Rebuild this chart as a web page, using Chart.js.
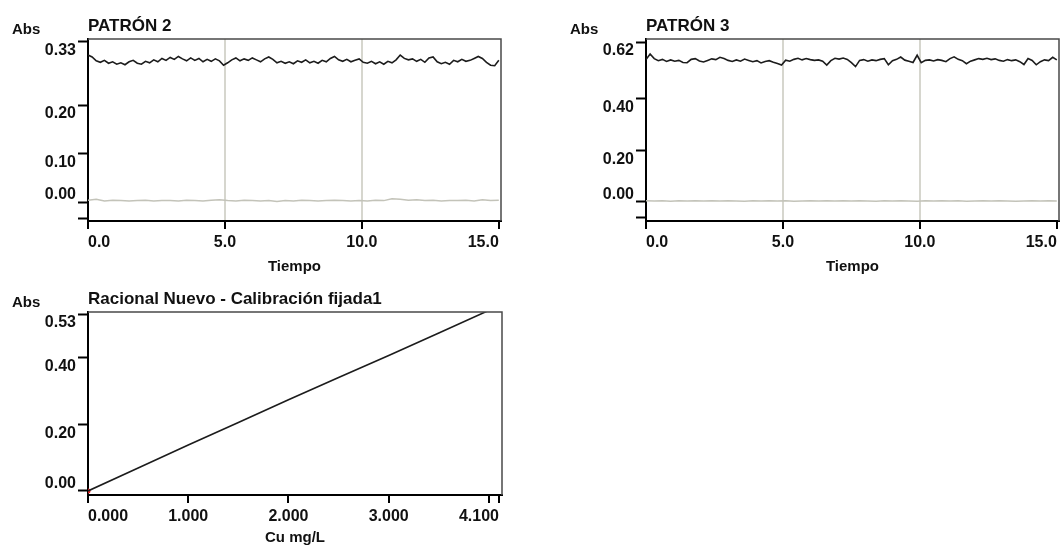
<!DOCTYPE html>
<html>
<head>
<meta charset="utf-8">
<script src="https://cdn.jsdelivr.net/npm/chart.js@4.4.0/dist/chart.umd.min.js"></script>
<style>
html,body{margin:0;padding:0;background:#fff;}
#wrap{position:relative;width:1061px;height:548px;overflow:hidden;}
canvas{position:absolute;}
</style>
</head>
<body>
<div id="wrap">
  <canvas id="c1" width="530" height="280" style="left:0;top:0"></canvas>
  <canvas id="c2" width="521" height="280" style="left:540px;top:0"></canvas>
  <canvas id="c3" width="530" height="268" style="left:0;top:280px"></canvas>
</div>
<script>
// Tiempo (min) - muestreo de las señales
const STEP_ABS = 0.15;   // señal de absorbancia
const STEP_BG = 0.3;     // señal de fondo (gris)

// PATRÓN 2
const p2Abs = [
  0.303, 0.299, 0.291, 0.288, 0.292, 0.286, 0.289, 0.284, 0.287, 0.283,
  0.289, 0.292, 0.286, 0.284, 0.290, 0.287, 0.293, 0.289, 0.296, 0.292,
  0.298, 0.294, 0.300, 0.295, 0.291, 0.297, 0.292, 0.296, 0.289, 0.294,
  0.290, 0.295, 0.291, 0.282, 0.287, 0.293, 0.297, 0.291, 0.295, 0.292,
  0.297, 0.293, 0.289, 0.295, 0.299, 0.294, 0.287, 0.290, 0.286, 0.289,
  0.285, 0.291, 0.288, 0.293, 0.287, 0.290, 0.286, 0.292, 0.289, 0.296,
  0.300, 0.293, 0.290, 0.294, 0.289, 0.292, 0.295, 0.288, 0.286, 0.290,
  0.285, 0.289, 0.284, 0.290, 0.287, 0.293, 0.303, 0.296, 0.293, 0.295,
  0.290, 0.294, 0.288, 0.297, 0.299, 0.289, 0.285, 0.288, 0.284, 0.292,
  0.289, 0.294, 0.290, 0.292, 0.296, 0.300, 0.296, 0.288, 0.282, 0.281,
  0.292
];
const p2Bg = [
  0.004, 0.006, 0.002, 0.004, 0.003, 0.002, 0.003, 0.004, 0.002, 0.003,
  0.003, 0.002, 0.004, 0.003, 0.002, 0.004, 0.005, 0.003, 0.002, 0.004,
  0.003, 0.002, 0.003, 0.001, 0.003, 0.002, 0.004, 0.003, 0.002, 0.003,
  0.004, 0.003, 0.002, 0.003, 0.002, 0.004, 0.003, 0.007, 0.006, 0.004,
  0.005, 0.003, 0.004, 0.002, 0.003, 0.003, 0.004, 0.002, 0.005, 0.003,
  0.004
];
const p2YTicks = [-0.033, 0, 0.1, 0.2, 0.33];
const p2YLabels = ['', '0.00', '0.10', '0.20', '0.33'];

// PATRÓN 3
const p3Abs = [
  0.552, 0.574, 0.556, 0.548, 0.553, 0.545, 0.551, 0.546, 0.549, 0.541,
  0.540, 0.553, 0.556, 0.547, 0.543, 0.549, 0.555, 0.552, 0.561, 0.556,
  0.549, 0.545, 0.551, 0.546, 0.554, 0.549, 0.544, 0.548, 0.539, 0.545,
  0.548, 0.542, 0.537, 0.531, 0.550, 0.546, 0.553, 0.557, 0.551, 0.556,
  0.552, 0.549, 0.551, 0.546, 0.531, 0.548, 0.557, 0.554, 0.558, 0.553,
  0.540, 0.525, 0.549, 0.552, 0.546, 0.551, 0.548, 0.553, 0.556, 0.532,
  0.548, 0.553, 0.562, 0.550, 0.546, 0.541, 0.569, 0.540, 0.549, 0.551,
  0.547, 0.552, 0.549, 0.544, 0.556, 0.563, 0.553, 0.548, 0.536, 0.546,
  0.551, 0.556, 0.553, 0.557, 0.552, 0.555, 0.549, 0.546, 0.552, 0.548,
  0.551, 0.544, 0.533, 0.556, 0.549, 0.532, 0.544, 0.551, 0.548, 0.561,
  0.551
];
const p3Bg = [
  0.005, 0.004, 0.005, 0.003, 0.005, 0.004, 0.005, 0.004, 0.005, 0.004,
  0.005, 0.004, 0.003, 0.005, 0.004, 0.005, 0.004, 0.005, 0.003, 0.004,
  0.005, 0.004, 0.005, 0.004, 0.005, 0.004, 0.005, 0.004, 0.003, 0.005,
  0.004, 0.005, 0.004, 0.003, 0.005, 0.004, 0.005, 0.004, 0.005, 0.003,
  0.004, 0.005, 0.004, 0.005, 0.004, 0.003, 0.004, 0.005, 0.004, 0.005,
  0.004
];
const p3YTicks = [-0.062, 0, 0.2, 0.4, 0.62];
const p3YLabels = ['', '0.00', '0.20', '0.40', '0.62'];

const timeTicks = [0, 5, 10, 15];
const timeLabels = ['0.0', '5.0', '10.0', '15.0'];

// Calibración
const calConc = [0, 0.5, 1, 1.5, 2, 2.5, 3, 3.5, 4, 4.13];
const calAbs = [0, 0.069, 0.138, 0.205, 0.273, 0.340, 0.406, 0.473, 0.541, 0.558];
const stdConc = [0];
const stdAbs = [0];
const calXTicks = [0, 1, 2, 3, 4, 4.1];
const calXLabels = ['0.000', '1.000', '2.000', '3.000', '', '4.100'];
const calYTicks = [0, 0.2, 0.4, 0.53];
const calYLabels = ['0.00', '0.20', '0.40', '0.53'];

const FONT = '"Liberation Sans", Arial, sans-serif';
Chart.defaults.font.family = FONT;
Chart.defaults.color = '#111';

const toPts = (vals, step) => vals.map((v, i) => ({ x: +(i * step).toFixed(3), y: v }));
const toXY = (xs, ys) => xs.map((x, i) => ({ x, y: ys[i] }));

// Marco superior/derecho, etiquetas del eje Y, "Abs" y título
const decor = {
  id: 'decor',
  afterDraw(chart, args, o) {
    const { ctx, chartArea: a } = chart;
    const y = chart.scales.y;
    ctx.save();
    ctx.strokeStyle = '#4a4a4a';
    ctx.lineWidth = 1.5;
    ctx.beginPath();
    ctx.moveTo(a.left, a.top);
    ctx.lineTo(a.right, a.top);
    ctx.lineTo(a.right, a.bottom);
    ctx.stroke();

    ctx.fillStyle = '#111';
    ctx.font = 'bold 16px ' + FONT;
    ctx.textAlign = 'right';
    ctx.textBaseline = 'middle';
    y.ticks.forEach((t, i) => {
      const lab = o.yLabels[i];
      if (!lab) return;
      const py = y.getPixelForValue(t.value) + (t.value === 0 ? -7 : 9);
      ctx.fillText(lab, a.left - 12, py);
    });

    ctx.textAlign = 'left';
    ctx.textBaseline = 'alphabetic';
    ctx.font = 'bold 15px ' + FONT;
    ctx.fillText('Abs', a.left - 76, a.top - 5);
    ctx.font = 'bold 17px ' + FONT;
    ctx.fillText(o.title, a.left, a.top - 8);
    ctx.restore();
  }
};

function makeChart(id, c) {
  const canvas = document.getElementById(id);
  const W = canvas.width, H = canvas.height;
  return new Chart(canvas, {
    type: 'line',
    data: { datasets: c.datasets },
    options: {
      responsive: false,
      animation: false,
      devicePixelRatio: 1,
      layout: { padding: { top: c.area.top, right: W - c.area.right, left: 0, bottom: 0 } },
      plugins: {
        legend: { display: false },
        tooltip: { enabled: false },
        decor: { title: c.title, yLabels: c.yLabels }
      },
      scales: {
        x: {
          type: 'linear',
          min: c.xMin, max: c.xMax,
          afterBuildTicks: s => { s.ticks = c.xTicks.map(v => ({ value: v })); },
          afterFit: s => { s.height = H - c.area.bottom; },
          ticks: {
            autoSkip: false, maxRotation: 0, align: 'inner', padding: 4,
            font: { size: 16, weight: 'bold' }, color: '#111',
            callback: (v, i) => c.xLabels[i]
          },
          grid: {
            drawOnChartArea: c.xGrid,
            color: ctx => (ctx.tick && (ctx.tick.value === c.xTicks[0] || ctx.tick.value === c.xTicks[c.xTicks.length - 1])) ? 'rgba(0,0,0,0)' : '#d6d6ce',
            lineWidth: 2,
            tickColor: '#000', tickWidth: 2, tickLength: 8
          },
          border: { display: true, color: '#000', width: 2 },
          title: {
            display: true, text: c.xTitle, color: '#111',
            font: { size: 15, weight: 'bold' },
            padding: { top: 0, bottom: c.xTitlePad }
          }
        },
        y: {
          type: 'linear',
          min: c.yMin, max: c.yMax,
          afterBuildTicks: s => { s.ticks = c.yTicks.map(v => ({ value: v })); },
          afterFit: s => { s.width = c.area.left; },
          ticks: { display: false },
          grid: { drawOnChartArea: false, tickColor: '#000', tickWidth: 2, tickLength: 10 },
          border: { display: true, color: '#000', width: 2 }
        }
      }
    },
    plugins: [decor]
  });
}

function signalSets(abs, bg) {
  return [
    { data: toPts(bg, STEP_BG), borderColor: '#c3c3b9', borderWidth: 1.5, pointRadius: 0, tension: 0 },
    { data: toPts(abs, STEP_ABS), borderColor: '#1c1c1c', borderWidth: 1.6, pointRadius: 0, tension: 0 }
  ];
}

makeChart('c1', {
  title: 'PATRÓN 2',
  area: { left: 88, top: 39, right: 501, bottom: 221 },
  datasets: signalSets(p2Abs, p2Bg),
  xMin: 0, xMax: 15.08, xTicks: timeTicks, xLabels: timeLabels, xGrid: true,
  xTitle: 'Tiempo', xTitlePad: 4,
  yMin: -0.039, yMax: 0.336, yTicks: p2YTicks, yLabels: p2YLabels
});

makeChart('c2', {
  title: 'PATRÓN 3',
  area: { left: 106, top: 39, right: 519, bottom: 221 },
  datasets: signalSets(p3Abs, p3Bg),
  xMin: 0, xMax: 15.08, xTicks: timeTicks, xLabels: timeLabels, xGrid: true,
  xTitle: 'Tiempo', xTitlePad: 4,
  yMin: -0.074, yMax: 0.632, yTicks: p3YTicks, yLabels: p3YLabels
});

makeChart('c3', {
  title: 'Racional Nuevo - Calibración fijada1',
  area: { left: 88, top: 32, right: 502, bottom: 215 },
  datasets: [
    { data: toXY(calConc, calAbs), borderColor: '#1c1c1c', borderWidth: 1.6, pointRadius: 0, tension: 0 },
    { data: toXY(stdConc, stdAbs), showLine: false, pointRadius: 2.5, pointBackgroundColor: '#e02020', pointBorderWidth: 0 }
  ],
  xMin: 0, xMax: 4.13, xTicks: calXTicks, xLabels: calXLabels, xGrid: false,
  xTitle: 'Cu mg/L', xTitlePad: 1,
  yMin: -0.012, yMax: 0.536, yTicks: calYTicks, yLabels: calYLabels
});
</script>
</body>
</html>
